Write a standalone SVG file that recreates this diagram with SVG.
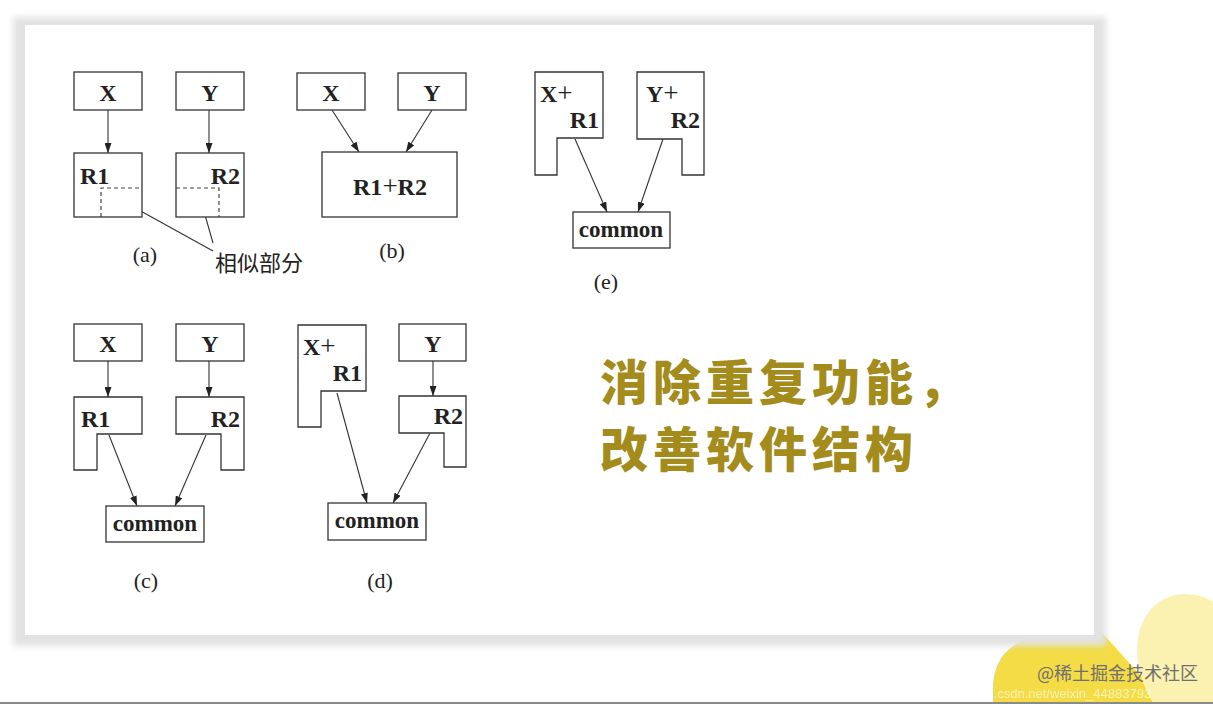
<svg xmlns="http://www.w3.org/2000/svg" width="1213" height="704" viewBox="0 0 1213 704">
<style>
.b{fill:#fff;stroke:#333;stroke-width:1.3}
.t{font-family:"Liberation Serif",serif;font-weight:bold;font-size:24px;fill:#222}
.w{font-size:23px}
.p{font-weight:normal;font-size:27px}
.cap{font-family:"Liberation Serif",serif;font-size:22px;fill:#222;text-anchor:middle}
.c{stroke:#333;stroke-width:1.1;fill:none}
.d{stroke:#444;stroke-width:1.2;fill:none;stroke-dasharray:4 3}
.m{text-anchor:middle}
.e{text-anchor:end}
.big{font-family:"Noto Sans CJK SC",sans-serif;font-weight:900;font-size:48px;fill:#a38b1c;letter-spacing:5px}
</style>
<defs>
<marker id="ah" markerUnits="userSpaceOnUse" markerWidth="10" markerHeight="7" refX="10" refY="3.5" orient="auto">
<path d="M0,0 L10,3.5 L0,7 z" fill="#222"/>
</marker>
<filter id="sh" x="-5%" y="-5%" width="110%" height="110%"><feGaussianBlur stdDeviation="3"/></filter>
</defs>
<rect width="1213" height="704" fill="#fff"/>
<g id="background">
<path d="M993 704 L993 684 Q996 642 1045 634 L1096 626 L1166 704 Z" fill="#f3dc45"/>
<ellipse cx="1200" cy="668" rx="58" ry="78" transform="rotate(-28 1200 668)" fill="#fbf2b2"/>
<rect x="13" y="17" width="1093" height="629" fill="#e2e2e2" filter="url(#sh)"/>
<rect x="25" y="25" width="1069" height="610" fill="#fff"/>
<rect x="0" y="702" width="1213" height="2" fill="#8a8a8a"/>
<text x="930" y="698" font-family="Liberation Sans,sans-serif" font-size="13" fill="#fff" opacity="0.6">https://blog.csdn.net/weixin_44883793</text>
<text x="1198" y="680" text-anchor="end" font-family="Noto Sans CJK SC,sans-serif" font-size="18" fill="#6f6f6f">@稀土掘金技术社区</text>
</g>
<g id="connectors">
<line class="c" x1="108" y1="110" x2="108" y2="153" marker-end="url(#ah)"/>
<line class="c" x1="209" y1="110" x2="209" y2="153" marker-end="url(#ah)"/>
<line class="c" x1="128" y1="204" x2="213" y2="251"/>
<line class="c" x1="203" y1="208" x2="213" y2="243"/>
<line class="c" x1="332" y1="110" x2="359" y2="152" marker-end="url(#ah)"/>
<line class="c" x1="432" y1="110" x2="406" y2="152" marker-end="url(#ah)"/>
<line class="c" x1="575" y1="139" x2="607" y2="212" marker-end="url(#ah)"/>
<line class="c" x1="663" y1="139" x2="638" y2="212" marker-end="url(#ah)"/>
<line class="c" x1="108" y1="361" x2="108" y2="397" marker-end="url(#ah)"/>
<line class="c" x1="209" y1="361" x2="209" y2="397" marker-end="url(#ah)"/>
<line class="c" x1="109" y1="435" x2="137" y2="506" marker-end="url(#ah)"/>
<line class="c" x1="206" y1="435" x2="175" y2="506" marker-end="url(#ah)"/>
<line class="c" x1="433" y1="361" x2="433" y2="396" marker-end="url(#ah)"/>
<line class="c" x1="337" y1="393" x2="367" y2="503" marker-end="url(#ah)"/>
<line class="c" x1="430" y1="433" x2="393" y2="503" marker-end="url(#ah)"/>
</g>
<g id="a-X"><rect class="b" x="74" y="72" width="68" height="38"/><text class="t m" x="108" y="101">X</text></g>
<g id="a-Y"><rect class="b" x="176" y="72" width="68" height="38"/><text class="t m" x="210" y="101">Y</text></g>
<g id="a-R1"><rect class="b" x="74" y="153" width="68" height="64"/><path class="d" d="M101 217 V188 H142"/><text class="t" x="80" y="184">R1</text></g>
<g id="a-R2"><rect class="b" x="176" y="153" width="68" height="64"/><path class="d" d="M176 188 H219 V217"/><text class="t e" x="240" y="184">R2</text></g>
<text class="cap" x="145" y="262">(a)</text>
<text x="215" y="271" font-family="Noto Sans CJK SC,sans-serif" font-size="22" fill="#222">相似部分</text>
<g id="b-X"><rect class="b" x="297" y="73" width="68" height="37"/><text class="t m" x="331" y="101">X</text></g>
<g id="b-Y"><rect class="b" x="398" y="73" width="68" height="37"/><text class="t m" x="432" y="101">Y</text></g>
<g id="b-R1R2"><rect class="b" x="322" y="152" width="135" height="65"/><text class="t m" x="390" y="195">R1<tspan class="p">+</tspan>R2</text></g>
<text class="cap" x="392" y="258">(b)</text>
<g id="e-XR1"><path class="b" d="M535 72 H603 V138 H557 V175 H535 Z"/><text class="t" x="540" y="102">X<tspan class="p">+</tspan></text><text class="t e" x="599" y="128">R1</text></g>
<g id="e-YR2"><path class="b" d="M637 72 H704 V175 H682 V139 H637 Z"/><text class="t" x="646" y="102">Y<tspan class="p">+</tspan></text><text class="t e" x="700" y="128">R2</text></g>
<g id="e-common"><rect class="b" x="573" y="212" width="97" height="36"/><text class="t m w" x="621" y="237">common</text></g>
<text class="cap" x="606" y="289">(e)</text>
<g id="c-X"><rect class="b" x="74" y="324" width="68" height="37"/><text class="t m" x="108" y="352">X</text></g>
<g id="c-Y"><rect class="b" x="176" y="324" width="68" height="37"/><text class="t m" x="210" y="352">Y</text></g>
<g id="c-R1"><path class="b" d="M74 397 H142 V434 H97 V470 H74 Z"/><text class="t" x="81" y="427">R1</text></g>
<g id="c-R2"><path class="b" d="M176 397 H244 V470 H221 V434 H176 Z"/><text class="t e" x="240" y="427">R2</text></g>
<g id="c-common"><rect class="b" x="106" y="506" width="98" height="36"/><text class="t m w" x="155" y="531">common</text></g>
<text class="cap" x="146" y="588">(c)</text>
<g id="d-XR1"><path class="b" d="M298 325 H366 V391 H321 V427 H298 Z"/><text class="t" x="303" y="355">X<tspan class="p">+</tspan></text><text class="t e" x="362" y="381">R1</text></g>
<g id="d-Y"><rect class="b" x="399" y="324" width="67" height="37"/><text class="t m" x="433" y="352">Y</text></g>
<g id="d-R2"><path class="b" d="M399 396 H466 V467 H444 V433 H399 Z"/><text class="t e" x="463" y="424">R2</text></g>
<g id="d-common"><rect class="b" x="328" y="503" width="98" height="37"/><text class="t m w" x="377" y="528">common</text></g>
<text class="cap" x="380" y="588">(d)</text>
<text class="big" x="600" y="400">消除重复功能，</text>
<text class="big" x="600" y="467">改善软件结构</text>
</svg>
